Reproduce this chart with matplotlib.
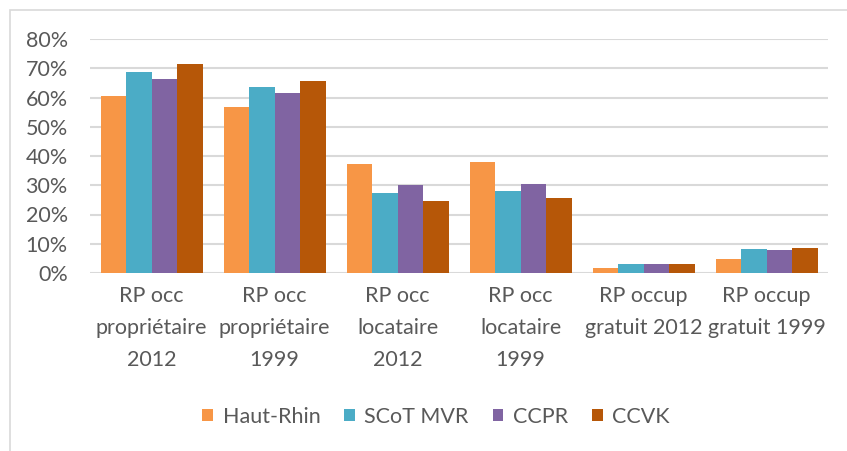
import matplotlib
matplotlib.use("Agg")
import matplotlib.pyplot as plt
import numpy as np
from matplotlib.patches import Rectangle, Patch
from matplotlib.ticker import FuncFormatter

categories = ["RP occ\npropriétaire\n2012", "RP occ\npropriétaire\n1999",
              "RP occ\nlocataire\n2012", "RP occ\nlocataire\n1999",
              "RP occup\ngratuit 2012", "RP occup\ngratuit 1999"]
series_names = ["Haut-Rhin", "SCoT MVR", "CCPR", "CCVK"]
haut_rhin = [60.6, 56.8, 37.1, 38.0, 1.8, 4.8]
scot_mvr = [68.8, 63.5, 27.5, 28.0, 3.1, 8.1]
ccpr = [66.3, 61.6, 30.2, 30.4, 3.0, 7.8]
ccvk = [71.5, 65.6, 24.6, 25.6, 3.2, 8.5]
colors = ["#F79646", "#4BACC6", "#8064A2", "#B65708"]

plt.rcParams['font.family'] = ['Lato', 'DejaVu Sans']
text_color = "#595959"
fs = 15.5

fig = plt.figure(figsize=(8.47, 4.51), dpi=100)
ax = fig.add_axes([90/847, 1-273/451, (828-90)/847, (273-39)/451])

# chart border
fig.patches.append(Rectangle((10/847, -0.1), 1.1, 1 - 10/451 + 0.1, transform=fig.transFigure,
                             fill=False, edgecolor="#d9d9d9", linewidth=1.2))

x = np.arange(len(categories))
w = 102/123/4
data = [haut_rhin, scot_mvr, ccpr, ccvk]
for i, (vals, c) in enumerate(zip(data, colors)):
    ax.bar(x + (i - 1.5) * w, np.array(vals) / 100, width=w, color=c, zorder=3)

ax.set_xlim(-0.5, len(categories) - 0.5)
ax.set_ylim(0, 0.8)
ax.set_yticks(np.arange(0, 0.81, 0.1))
ax.yaxis.set_major_formatter(FuncFormatter(lambda v, p: f"{v*100:.0f}%"))
ax.grid(axis='y', color="#d9d9d9", linewidth=1.5, zorder=0)
for s in ax.spines.values():
    s.set_visible(False)
ax.tick_params(axis='both', length=0, labelsize=fs, labelcolor=text_color)
ax.tick_params(axis='y', pad=16)
ax.tick_params(axis='x', pad=9)
ax.set_xticks(x)
ax.set_xticklabels(categories, linespacing=1.75)

handles = [Patch(facecolor=c, label=n) for c, n in zip(colors, series_names)]
fig.legend(handles=handles, loc='center', bbox_to_anchor=(436/847, 1-417/451), ncol=4,
           frameon=False, fontsize=fs, labelcolor=text_color, handlelength=0.5,
           handleheight=0.5, handletextpad=0.45, columnspacing=1.1)

fig.savefig("out.png", dpi=100, facecolor="white")
